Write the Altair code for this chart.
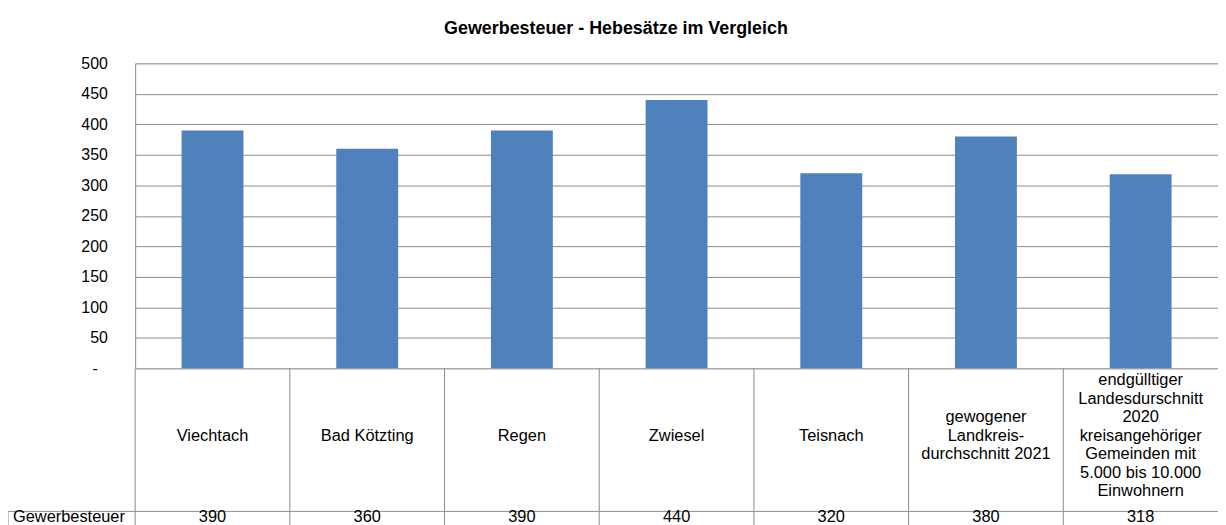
import altair as alt
import pandas as pd

keys = ["c1", "c2", "c3", "c4", "c5", "c6", "c7"]
labels = [
    "Viechtach",
    "Bad Kötzting",
    "Regen",
    "Zwiesel",
    "Teisnach",
    "gewogener\nLandkreis-\ndurchschnitt 2021",
    "endgülltiger\nLandesdurschnitt\n2020\nkreisangehöriger\nGemeinden mit\n5.000 bis 10.000\nEinwohnern",
]
values = [390, 360, 390, 440, 320, 380, 318]
y_ticks = [0, 50, 100, 150, 200, 250, 300, 350, 400, 450, 500]
series_name = "Gewerbesteuer"
title_text = "Gewerbesteuer - Hebesätze im Vergleich"

df = pd.DataFrame({"key": keys, "label": labels, "value": values})

W, H = 1090, 307
FONT = "Liberation Sans"
GRID = "#8c8c8c"
BAR = "#4F81BD"
LH = 18.6
TFS = 16.5

x_enc = alt.X("key:N", sort=keys, axis=None,
              scale=alt.Scale(paddingInner=0, paddingOuter=0))

bars = alt.Chart(df).mark_bar(color=BAR, width={"band": 0.4}).encode(
    x=x_enc,
    y=alt.Y("value:Q",
            scale=alt.Scale(domain=[0, 500], nice=False),
            axis=alt.Axis(values=y_ticks, title=None, ticks=False,
                          labelPadding={"condition": {"test": "datum.value == 0", "value": 38},
                                        "value": 28},
                          labelFontSize=16, labelFont=FONT,
                          labelColor="#000000",
                          labelExpr="datum.value == 0 ? '-' : datum.label",
                          gridColor=GRID, gridOpacity=1, gridWidth=1,
                          domainColor=GRID, domainWidth=1)),
)

dividers = alt.Chart(df).mark_rule(color=GRID, strokeWidth=1).encode(
    x=alt.X("key:N", sort=keys, bandPosition=0, axis=None),
    y=alt.value(H),
    y2=alt.value(H + 160),
)

row_line = alt.Chart(df.head(1)).mark_rule(color=GRID, strokeWidth=1).encode(
    x=alt.value(-128), x2=alt.value(W), y=alt.value(451),
)
left_border = alt.Chart(df.head(1)).mark_rule(color=GRID, strokeWidth=1).encode(
    x=alt.value(-128), y=alt.value(451), y2=alt.value(H + 160),
)

cat_text = alt.Chart(df).transform_calculate(
    ty=f"375 - (length(split(datum.label, '\\n')) - 1) * {LH / 2}"
).mark_text(
    font=FONT, fontSize=TFS, lineBreak="\n", lineHeight=LH,
    align="center", baseline="middle", color="#000000",
).encode(
    x=alt.X("key:N", sort=keys, bandPosition=0.5, axis=None),
    y=alt.Y("ty:Q", scale=None, axis=None),
    text="label:N",
)

val_text = alt.Chart(df).mark_text(
    font=FONT, fontSize=TFS, align="center", baseline="middle", color="#000000",
).encode(
    x=alt.X("key:N", sort=keys, bandPosition=0.5, axis=None),
    y=alt.value(457),
    text="value:Q",
)

name_df = pd.DataFrame({"name": [series_name]})
name_text = alt.Chart(name_df).mark_text(
    font=FONT, fontSize=TFS, align="left", baseline="middle", color="#000000",
).encode(
    x=alt.value(-123), y=alt.value(457), text="name:N",
)

chart = alt.layer(bars, dividers, row_line, left_border, cat_text, val_text, name_text).properties(
    width=W, height=H,
    title=alt.TitleParams(title_text, anchor="middle", dx=-61, fontSize=18,
                          fontWeight="bold", font=FONT, color="#000000",
                          frame="group", offset=18),
    autosize=alt.AutoSizeParams(type="none"),
    padding={"left": 128, "top": 54, "right": 0, "bottom": 156},
).configure_view(stroke=None).configure(background="white")

chart.save("out.html", embed_options={"renderer": "svg", "actions": False})
